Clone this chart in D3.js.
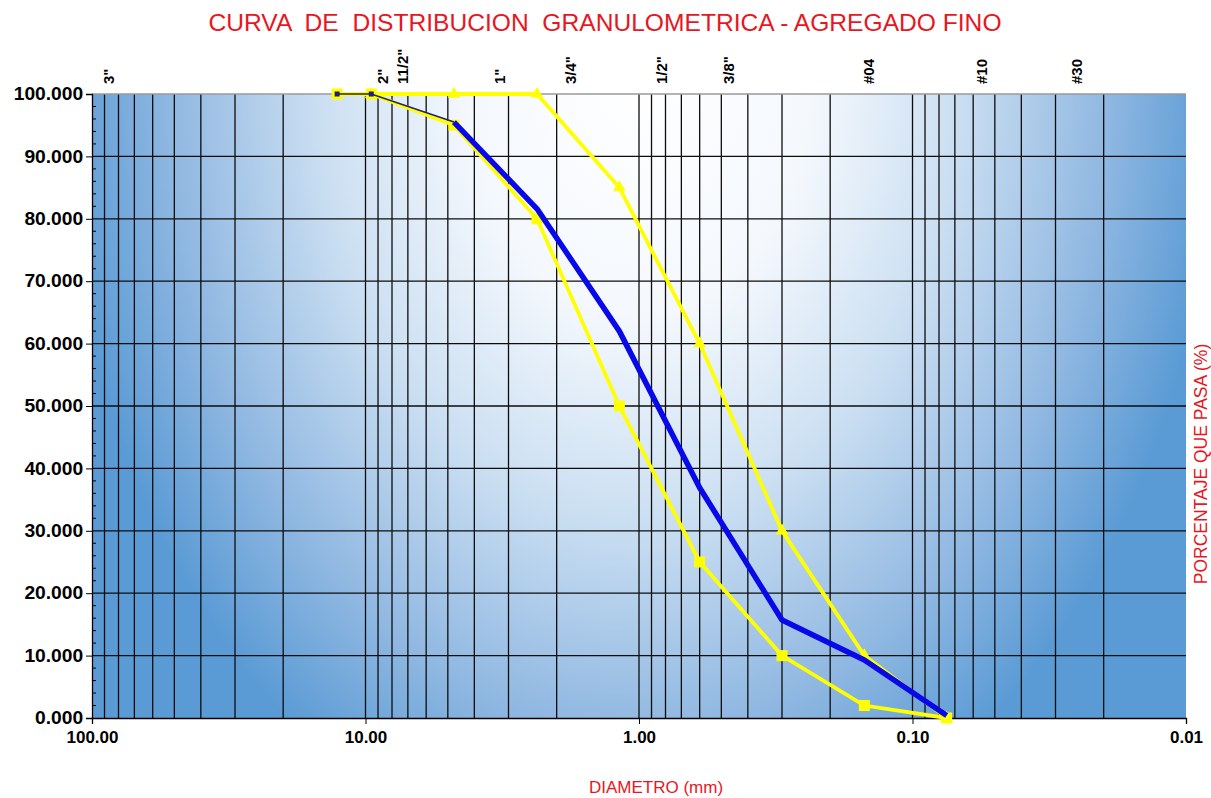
<!DOCTYPE html>
<html>
<head>
<meta charset="utf-8">
<script src="https://cdn.jsdelivr.net/npm/d3@7"></script>
<style>
  body { margin: 0; background: #fff; }
  text { font-family: "Liberation Sans", Arial, sans-serif; }
</style>
</head>
<body>
<svg width="1211" height="798"></svg>
<script>
// tamices (mm) y porcentajes que pasan
const sieveMm   = [12.7, 9.525, 4.75, 2.36, 1.18, 0.6, 0.3, 0.15, 0.075];
const muestra   = [100, 100, 95.5, 81.6, 62.0, 36.9, 15.7, 9.3, 0.4];
const limiteSup = [null, 100, 100, 100, 85, 60, 30, 10, 0];
const limiteInf = [100, 100, 95, 80, 50, 25, 10, 2, 0];

// etiquetas de tamices arriba (diametro donde esta cada texto)
const sieveLabels   = ['3"', '2"', '11/2"', '1"', '3/4"', '1/2"', '3/8"', '#04', '#10', '#30'];
const sieveLabelMm  = [87.2, 8.65, 7.29, 3.24, 1.772, 0.824, 0.469, 0.1442, 0.0557, 0.02503];

const xTicks = [100, 10, 1, 0.1, 0.01];
const yTicks = [0, 10, 20, 30, 40, 50, 60, 70, 80, 90, 100];

const red = "#e8161e";

const svg = d3.select("svg"),
      margin = {top: 94, right: 25, bottom: 80, left: 92},
      width = +svg.attr("width") - margin.left - margin.right,
      height = +svg.attr("height") - margin.top - margin.bottom;

const g = svg.append("g")
  .attr("transform", `translate(${margin.left},${margin.top})`);

const x = d3.scaleLog().domain([100, 0.01]).range([0, width]);
const y = d3.scaleLinear().domain([0, 100]).range([height, 0]);

// fondo degradado
const defs = svg.append("defs");
const grad = defs.append("radialGradient")
  .attr("id", "bg")
  .attr("gradientUnits", "userSpaceOnUse")
  .attr("cx", 0).attr("cy", 0).attr("r", 1)
  .attr("gradientTransform", `translate(${width * 0.5},${-20}) scale(${width * 0.53},${height * 1.3})`);
[[0, "#ffffff"], [0.3, "#f4f8fd"], [0.55, "#cbdff2"], [0.8, "#92b9e2"], [1, "#5b9bd5"]]
  .forEach(s => grad.append("stop").attr("offset", s[0]).attr("stop-color", s[1]));

g.append("rect")
  .attr("width", width).attr("height", height)
  .attr("fill", "url(#bg)");

// rejilla
const vLines = x.ticks().filter(t => t < 100 && t > 0.01);
g.append("g").selectAll("line")
  .data(vLines).enter().append("line")
  .attr("x1", d => x(d)).attr("x2", d => x(d))
  .attr("y1", 0).attr("y2", height)
  .attr("stroke", "#0d0d0d").attr("stroke-width", 1.3);

g.append("g").selectAll("line")
  .data(yTicks.filter(t => t > 0 && t < 100)).enter().append("line")
  .attr("x1", 0).attr("x2", width)
  .attr("y1", d => y(d)).attr("y2", d => y(d))
  .attr("stroke", "#0d0d0d").attr("stroke-width", 1.3);

// borde superior
g.append("line").attr("x1", 0).attr("x2", width).attr("y1", 0).attr("y2", 0)
  .attr("stroke", "#9a9a9a").attr("stroke-width", 1.5);

// ejes
const yAxis = g.append("g")
  .call(d3.axisLeft(y).tickValues(yTicks).tickFormat(d3.format(".3f")).tickSize(6).tickPadding(2));
yAxis.select(".domain").attr("stroke", "#000").attr("stroke-width", 1.3);
yAxis.selectAll("text")
  .attr("transform", "scale(1.1,1)")
  .style("font-size", "17.5px").style("font-weight", "bold").attr("fill", "#000");

// marcas menores del eje y (cada 2)
g.append("g").selectAll("line")
  .data(d3.range(0, 101, 2).filter(v => v % 10 !== 0)).enter().append("line")
  .attr("x1", 0).attr("x2", 4)
  .attr("y1", d => y(d)).attr("y2", d => y(d))
  .attr("stroke", "#000").attr("stroke-width", 1);

const xAxis = g.append("g")
  .attr("transform", `translate(0,${height})`)
  .call(d3.axisBottom(x).tickValues(xTicks).tickFormat(d3.format(".2f")).tickSize(6).tickPadding(7));
xAxis.select(".domain").attr("stroke", "#000").attr("stroke-width", 1.3);
xAxis.selectAll("text")
  .style("font-size", "17px").style("font-weight", "bold").attr("fill", "#000");

// etiquetas de tamices
g.append("g").selectAll("text")
  .data(sieveLabels).enter().append("text")
  .attr("transform", (d, i) => `translate(${x(sieveLabelMm[i])},-10) rotate(-90)`)
  .attr("dy", "0.35em")
  .style("font-size", "15px").style("font-weight", "bold")
  .text(d => d);

// series
const pts = vals => sieveMm.map((d, i) => ({d: d, p: vals[i]})).filter(o => o.p !== null);
const line = d3.line().x(o => x(o.d)).y(o => y(o.p));

const sup = pts(limiteSup), inf = pts(limiteInf), mue = pts(muestra);

g.append("path").datum(inf).attr("d", line)
  .attr("fill", "none").attr("stroke", "#ffff00").attr("stroke-width", 3.8);
g.append("path").datum(sup).attr("d", line)
  .attr("fill", "none").attr("stroke", "#ffff00").attr("stroke-width", 3.8);

g.append("g").selectAll("rect")
  .data(inf).enter().append("rect")
  .attr("x", o => x(o.d) - 5.5).attr("y", o => y(o.p) - 5.5)
  .attr("width", 11).attr("height", 11)
  .attr("fill", "#ffff00");

const tri = d3.symbol().type(d3.symbolTriangle).size(70);
g.append("g").selectAll("path")
  .data(sup).enter().append("path")
  .attr("d", tri)
  .attr("transform", o => `translate(${x(o.d)},${y(o.p)})`)
  .attr("fill", "#ffff00");

// muestra: tramo inicial delgado, luego grueso
g.append("path").datum(mue.slice(0, 3)).attr("d", line)
  .attr("fill", "none").attr("stroke", "#20207a").attr("stroke-width", 1.5);
g.append("path").datum(mue.slice(2)).attr("d", line)
  .attr("fill", "none").attr("stroke", "#0808e8").attr("stroke-width", 5.5)
  .attr("stroke-linejoin", "round");
g.append("g").selectAll("rect")
  .data(mue.slice(0, 2)).enter().append("rect")
  .attr("x", o => x(o.d) - 2.5).attr("y", o => y(o.p) - 2.5)
  .attr("width", 5).attr("height", 5)
  .attr("fill", "#20207a");

// titulos
svg.append("text")
  .attr("x", 605).attr("y", 31)
  .attr("text-anchor", "middle")
  .attr("fill", red)
  .style("font-size", "24.6px")
  .style("white-space", "pre")
  .text("CURVA  DE  DISTRIBUCION  GRANULOMETRICA - AGREGADO FINO");

svg.append("text")
  .attr("x", 656).attr("y", 793)
  .attr("text-anchor", "middle")
  .attr("fill", red)
  .style("font-size", "17px")
  .text("DIAMETRO (mm)");

svg.append("text")
  .attr("transform", `translate(${margin.left + width + 15},${margin.top + height / 2 + 58}) rotate(-90)`)
  .attr("dy", "0.35em")
  .attr("text-anchor", "middle")
  .attr("fill", red)
  .style("font-size", "17.5px")
  .text("PORCENTAJE QUE PASA (%)");
</script>
</body>
</html>
